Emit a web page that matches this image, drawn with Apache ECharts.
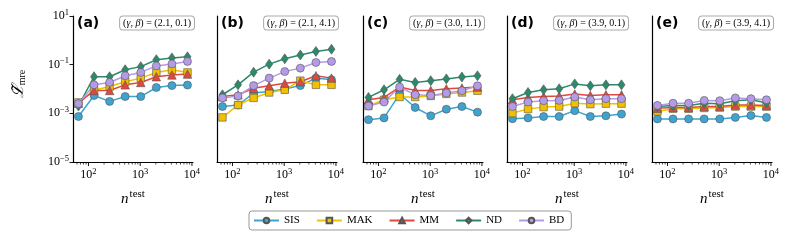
<!DOCTYPE html>
<html><head><meta charset="utf-8">
<script src="https://cdn.jsdelivr.net/npm/echarts@6/dist/echarts.min.js"></script>
<style>html,body{margin:0;padding:0;background:#fff}#c{width:793px;height:242px}</style>
</head><body><div id="c"></div>
<script>
// ---- data ----
const nTest = [64, 128, 256, 512, 1024, 2048, 4096, 8192];
const methods = ['SIS', 'MAK', 'MM', 'ND', 'BD'];
const panelLabels = ['(a)', '(b)', '(c)', '(d)', '(e)'];
const gammaValues = ['2.1', '2.1', '3.0', '3.9', '3.9'];
const betaValues = ['0.1', '4.1', '1.1', '0.1', '4.1'];
const yTickValues = [1e-5, 1e-3, 1e-1, 1e1];
const xMajorTicks = [100, 1000, 10000];
const xMinorTicks = [60, 70, 80, 90, 200, 300, 400, 500, 600, 700, 800, 900,
  2000, 3000, 4000, 5000, 6000, 7000, 8000, 9000];

// one row per panel (a)..(e), values at nTest
const SIS = [
  [7.4e-4, 5.4e-3, 3.1e-3, 4.9e-3, 4.9e-3, 1.15e-2, 1.38e-2, 1.45e-2],
  [1.9e-3, 2.2e-3, 6.8e-3, 7.9e-3, 1.0e-2, 1.38e-2, 2.8e-2, 2.4e-2],
  [5.5e-4, 6.5e-4, 6.2e-3, 1.74e-3, 7.9e-4, 1.48e-3, 1.9e-3, 1.12e-3],
  [6.0e-4, 6.5e-4, 7.4e-4, 7.4e-4, 1.29e-3, 7.4e-4, 7.9e-4, 9.3e-4],
  [5.9e-4, 5.9e-4, 5.9e-4, 5.9e-4, 5.9e-4, 6.8e-4, 8.1e-4, 6.8e-4]
];
const MAK = [
  [2.8e-3, 8.9e-3, 1.26e-2, 2.0e-2, 2.8e-2, 4.8e-2, 6.2e-2, 4.8e-2],
  [6.8e-4, 2.2e-3, 4.3e-3, 7.2e-3, 9.3e-3, 2.2e-2, 1.48e-2, 1.48e-2],
  [2.0e-3, 3.6e-3, 4.7e-3, 4.7e-3, 5.2e-3, 6.3e-3, 7.2e-3, 8.5e-3],
  [1.02e-3, 1.5e-3, 1.8e-3, 1.9e-3, 2.6e-3, 2.4e-3, 2.5e-3, 2.5e-3],
  [1.2e-3, 1.55e-3, 1.55e-3, 1.66e-3, 1.74e-3, 1.9e-3, 1.9e-3, 1.9e-3]
];
const MM = [
  [2.6e-3, 8.7e-3, 8.7e-3, 1.48e-2, 1.86e-2, 3.2e-2, 3.8e-2, 4.1e-2],
  [4.9e-3, 5.8e-3, 1.07e-2, 1.35e-2, 1.74e-2, 2.0e-2, 3.5e-2, 2.8e-2],
  [3.6e-3, 4.5e-3, 1.2e-2, 8.7e-3, 8.7e-3, 1.02e-2, 1.1e-2, 1.2e-2],
  [3.6e-3, 4.5e-3, 4.9e-3, 5.2e-3, 6.2e-3, 5.4e-3, 5.8e-3, 5.8e-3],
  [1.62e-3, 1.74e-3, 1.74e-3, 1.9e-3, 1.9e-3, 2.2e-3, 2.2e-3, 2.1e-3]
];
const ND = [
  [2.0e-3, 3.2e-2, 3.2e-2, 6.2e-2, 8.3e-2, 0.16, 0.19, 0.21],
  [5.8e-3, 1.48e-2, 4.9e-2, 0.105, 0.174, 0.25, 0.35, 0.43],
  [4.5e-3, 9.3e-3, 2.5e-2, 1.86e-2, 2.2e-2, 2.6e-2, 3.1e-2, 3.5e-2],
  [4.0e-3, 7.2e-3, 9.3e-3, 1.02e-2, 1.62e-2, 1.35e-2, 1.48e-2, 1.48e-2],
  [1.9e-3, 2.1e-3, 2.1e-3, 2.6e-3, 2.5e-3, 3.3e-3, 3.6e-3, 2.7e-3]
];
const BD = [
  [2.5e-3, 1.48e-2, 1.86e-2, 3.5e-2, 4.8e-2, 8.9e-2, 0.107, 0.135],
  [4.3e-3, 5.2e-3, 1.38e-2, 2.8e-2, 5.2e-2, 7.2e-2, 0.123, 0.135],
  [2.0e-3, 2.9e-3, 1.2e-2, 5.8e-3, 5.4e-3, 6.8e-3, 8.5e-3, 1.35e-2],
  [1.9e-3, 2.9e-3, 3.3e-3, 3.4e-3, 4.7e-3, 3.6e-3, 4.0e-3, 4.0e-3],
  [2.1e-3, 2.6e-3, 2.6e-3, 3.4e-3, 3.3e-3, 4.3e-3, 4.0e-3, 3.6e-3]
];

// ---- styling ----
const seriesData = { SIS: SIS, MAK: MAK, MM: MM, ND: ND, BD: BD };
const colors = { SIS: '#3fa3cf', MAK: '#f2c000', MM: '#e2473f', ND: '#2b8a6b', BD: '#b39be8' };
const symbols = { SIS: 'circle', MAK: 'rect', MM: 'triangle', ND: 'diamond', BD: 'circle' };
const symbolSizes = { SIS: 8, MAK: 7.5, MM: 8.5, ND: [7, 10], BD: 8 };

const panelLeft = [73, 217, 363, 507, 652];
const panelWidth = 120, panelTop = 16, panelHeight = 146;
const xMin = 50.2, xMax = 10470;
const serif = 'Liberation Serif';

const supRich = {
  b: { fontFamily: serif, fontSize: 12, color: '#000', lineHeight: 14 },
  s: { fontFamily: serif, fontSize: 8.5, color: '#000', lineHeight: 14, padding: [0, 0, 7, 0] }
};
function pow10Label(v) {
  const e = Math.log10(v);
  if (Math.abs(e - Math.round(e)) > 1e-6) return '';
  const r = Math.round(e);
  return '{b|10}{s|' + (r < 0 ? '\u2212' + (-r) : r) + '}';
}

const grids = [], xAxes = [], yAxes = [], series = [], graphics = [];
for (let i = 0; i < 5; i++) {
  grids.push({ left: panelLeft[i], top: panelTop, width: panelWidth, height: panelHeight });
  xAxes.push({
    type: 'log', logBase: 10, gridIndex: i, min: xMin, max: xMax,
    axisLine: { show: true, onZero: false, lineStyle: { color: '#000', width: 1.2 } },
    axisTick: { show: false }, minorTick: { show: false },
    splitLine: { show: false }, minorSplitLine: { show: false },
    axisLabel: { formatter: pow10Label, rich: supRich, margin: 6, showMinLabel: true, showMaxLabel: true },
    name: '{n|n}{t|test}', nameLocation: 'middle', nameGap: 28,
    nameTextStyle: {
      rich: {
        n: { fontFamily: serif, fontStyle: 'italic', fontSize: 15, color: '#000', lineHeight: 18 },
        t: { fontFamily: serif, fontSize: 11, color: '#000', lineHeight: 18, padding: [0, 0, 9, 1] }
      }
    }
  });
  yAxes.push({
    type: 'log', logBase: 10, gridIndex: i, min: 1e-5, max: 10, interval: 2,
    axisLine: { show: true, onZero: false, lineStyle: { color: '#000', width: 1.2 } },
    axisTick: { show: i === 0, length: 3.5, lineStyle: { color: '#000', width: 0.9 } },
    minorTick: { show: false }, splitLine: { show: false },
    axisLabel: { show: i === 0, formatter: pow10Label, rich: supRich, margin: 4 }
  });
  methods.forEach(function (m) {
    series.push({
      name: m, type: 'line', xAxisIndex: i, yAxisIndex: i,
      data: nTest.map(function (n, k) { return [n, seriesData[m][i][k]]; }),
      symbol: symbols[m], symbolSize: symbolSizes[m], showAllSymbol: true,
      lineStyle: { color: colors[m], width: 1.5 },
      itemStyle: { color: colors[m], borderColor: '#555', borderWidth: 0.6 },
      emphasis: { disabled: true }, animation: false, clip: false
    });
  });
  // x-axis ticks (major + minor log ticks) drawn through the axis scale
  series.push({
    type: 'custom', xAxisIndex: i, yAxisIndex: i, silent: true, clip: false, animation: false,
    data: xMajorTicks.map(function (v) { return [v, 1e-5, 1]; })
      .concat(xMinorTicks.map(function (v) { return [v, 1e-5, 0]; })),
    encode: { x: 0, y: 1 },
    renderItem: function (params, api) {
      const p = api.coord([api.value(0), api.value(1)]);
      const len = api.value(2) ? 3.5 : 2;
      return { type: 'line', shape: { x1: p[0], y1: p[1] + 0.5, x2: p[0], y2: p[1] + 0.5 + len },
        style: { stroke: '#000', lineWidth: api.value(2) ? 0.9 : 0.7 } };
    },
    z: 1
  });
  graphics.push({
    type: 'text', left: panelLeft[i] + 4, top: 16,
    style: { text: panelLabels[i], fontFamily: 'DejaVu Sans', fontWeight: 'bold', fontSize: 14, fill: '#000' }
  });
  graphics.push({
    type: 'text', x: panelLeft[i] + 121, y: 16.5,
    style: {
      text: '({i|\u03b3}, {i|\u03b2}) = (' + gammaValues[i] + ', ' + betaValues[i] + ')',
      x: 0, y: 0, align: 'right', verticalAlign: 'top',
      fontFamily: serif, fontSize: 10, fill: '#000',
      rich: { i: { fontFamily: serif, fontStyle: 'italic', fontSize: 10, fill: '#000' } },
      backgroundColor: '#fff', borderColor: '#aaa', borderWidth: 1, borderRadius: 3, padding: [2, 3, 1, 3]
    }
  });
}
graphics.push({
  type: 'text', x: 19, y: 84, rotation: Math.PI / 2,
  style: {
    text: '{L|\u2112\u0303}{s|mre}', align: 'center', verticalAlign: 'middle',
    rich: {
      L: { fontFamily: 'DejaVu Serif', fontStyle: 'italic', fontSize: 16, fill: '#000', lineHeight: 20 },
      s: { fontFamily: serif, fontSize: 10, fill: '#000', lineHeight: 20, padding: [6, 0, 0, 0] }
    }
  }
});

const chart = echarts.init(document.getElementById('c'), null, { renderer: 'canvas' });
chart.setOption({
  animation: false,
  backgroundColor: '#fff',
  grid: grids, xAxis: xAxes, yAxis: yAxes, series: series, graphic: graphics,
  legend: {
    data: methods, left: 249, top: 211,
    itemWidth: 25, itemHeight: 7, itemGap: 16,
    padding: [4, 7, 4, 4],
    borderColor: '#999', borderWidth: 1, borderRadius: 3,
    textStyle: { fontFamily: serif, fontSize: 11, color: '#000' }
  }
});
</script></body></html>
